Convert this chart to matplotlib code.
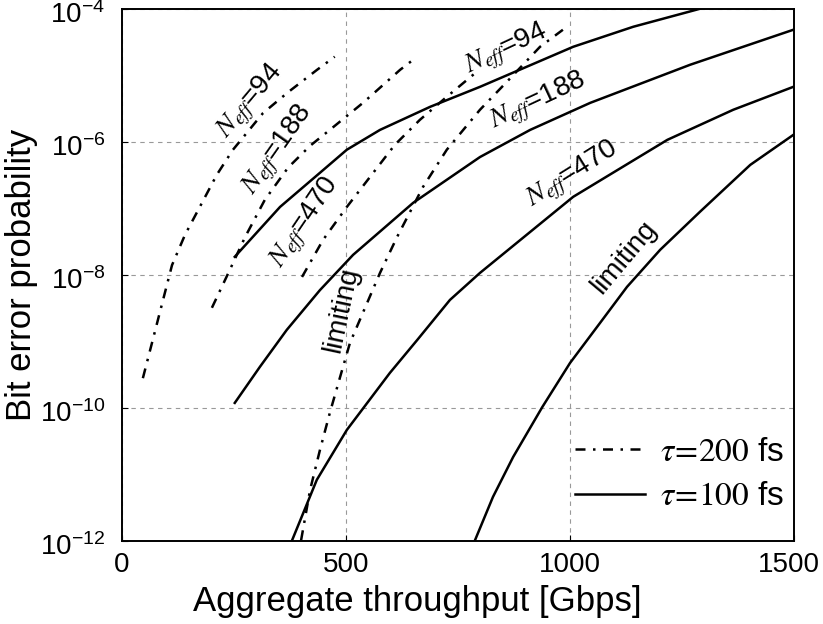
import matplotlib
matplotlib.use("Agg")
from matplotlib import pyplot as plt
from matplotlib.transforms import ScaledTranslation

plt.rcParams['font.family'] = ['Liberation Sans', 'DejaVu Sans']
plt.rcParams['mathtext.fontset'] = 'stix'

# tau = 200 fs (dash-dot curves)
x_200_94 = [47, 69, 92, 112, 141, 174, 212, 248, 315, 370, 435, 475]
y_200_94 = [2.8e-10, 1.05e-9, 4.2e-9, 1.4e-8, 4.0e-8, 1.05e-7, 3.2e-7, 7.6e-7, 2.7e-6, 5.5e-6, 1.2e-5, 1.9e-5]

x_200_188 = [201, 241, 275, 319, 371, 420, 464, 538, 621, 650]
y_200_188 = [3.2e-9, 1.19e-8, 3.7e-8, 1.34e-7, 4.1e-7, 8.7e-7, 1.51e-6, 3.85e-6, 1.21e-5, 1.71e-5]

x_200_470 = [402, 449, 502, 554, 609, 665, 725, 792]
y_200_470 = [9.3e-9, 3.36e-8, 1.05e-7, 2.98e-7, 9.0e-7, 2.14e-6, 4.75e-6, 1.13e-5]

x_200_lim = [400, 420, 442, 464, 487, 509, 576, 614, 672, 725, 799, 859, 933, 984]
y_200_lim = [1.03e-12, 5.85e-12, 2.33e-11, 8.4e-11, 2.92e-10, 9.5e-10, 1.07e-8, 3.7e-8,
             2.1e-7, 7.6e-7, 3.03e-6, 7.98e-6, 2.68e-5, 4.83e-5]

# tau = 100 fs (solid curves)
x_100_94 = [252, 353, 442, 502, 576, 688, 799, 1007, 1141, 1290]
y_100_94 = [1.87e-8, 1.05e-7, 3.42e-7, 7.6e-7, 1.51e-6, 3.36e-6, 6.7e-6, 2.68e-5, 5.36e-5, 1e-4]

x_100_188 = [252, 308, 368, 442, 516, 650, 799, 911, 1045, 1268, 1498]
y_100_188 = [1.19e-10, 4.14e-10, 1.49e-9, 5.9e-9, 2.0e-8, 1.21e-7, 5.9e-7, 1.51e-6, 3.85e-6, 1.44e-5, 4.83e-5]

x_100_470 = [380, 435, 502, 598, 659, 732, 799, 1007, 1217, 1364, 1498]
y_100_470 = [1.03e-12, 8.3e-12, 4.67e-11, 3.36e-10, 1.05e-9, 4.2e-9, 1.07e-8, 1.49e-7, 1.07e-6, 3.03e-6, 6.7e-6]

x_100_lim = [788, 828, 873, 938, 1000, 1067, 1127, 1201, 1290, 1402, 1498]
y_100_lim = [1.03e-12, 4.6e-12, 1.83e-11, 1.03e-10, 4.75e-10, 1.9e-9, 6.6e-9, 2.38e-8, 8.9e-8, 4.5e-7, 1.27e-6]

y_ticks = [1e-12, 1e-10, 1e-8, 1e-6, 1e-4]
y_tick_labels = [r'$\mathregular{10^{-12}}$', r'$\mathregular{10^{-10}}$', r'$\mathregular{10^{-8}}$',
                 r'$\mathregular{10^{-6}}$', r'$\mathregular{10^{-4}}$']
x_ticks = [0, 500, 1000, 1500]

fig = plt.figure(figsize=(8.23, 6.24), dpi=100)
ax = fig.add_axes([0.148, 0.133, 0.817, 0.853])

dash = (0, (4, 3, 1, 3))
lw = 1.8

ax.plot(x_200_94, y_200_94, color='k', lw=lw, linestyle=dash, label=r'$\tau\!=\!200$ fs')
ax.plot(x_200_188, y_200_188, color='k', lw=lw, linestyle=dash)
ax.plot(x_200_470, y_200_470, color='k', lw=lw, linestyle=dash)
ax.plot(x_200_lim, y_200_lim, color='k', lw=lw, linestyle=dash)

ax.plot(x_100_94, y_100_94, color='k', lw=lw, label=r'$\tau\!=\!100$ fs')
ax.plot(x_100_188, y_100_188, color='k', lw=lw)
ax.plot(x_100_470, y_100_470, color='k', lw=lw)
ax.plot(x_100_lim, y_100_lim, color='k', lw=lw)

ax.set_yscale('log')
ax.set_xlim(0, 1500)
ax.set_ylim(1e-12, 1e-4)
ax.set_yticks(y_ticks)
ax.set_yticklabels(y_tick_labels)
ax.set_xticks(x_ticks)
ax.minorticks_off()
ax.tick_params(direction='in', length=4, labelsize=20)
ax.tick_params(axis='y', pad=12)
ax.tick_params(axis='x', pad=8)
ax.grid(True, color='0.6', linestyle=(0, (4, 4)), lw=0.8)
for s in ax.spines.values():
    s.set_linewidth(1.4)

# nudge y tick labels down so the "10" sits on the tick
off = ScaledTranslation(0, -3 / 100, fig.dpi_scale_trans)
for t in ax.get_yticklabels():
    t.set_transform(t.get_transform() + off)
# keep "1500" inside the figure
last = ax.get_xticklabels()[-1]
last.set_transform(last.get_transform() + ScaledTranslation(-5 / 100, 0, fig.dpi_scale_trans))

ax.set_xlabel('Aggregate throughput [Gbps]', fontsize=25)
ax.xaxis.set_label_coords(0.44, -0.083)
ax.set_ylabel('Bit error probability', fontsize=25, labelpad=1)

# curve labels
lab = dict(fontsize=20, ha='center', va='center', rotation_mode='anchor')
ax.text(288, 10**-5.40, r'$N_{eff}$=94', rotation=50, **lab)
ax.text(348, 10**-6.12, r'$N_{eff}$=188', rotation=55, **lab)
ax.text(410, 10**-7.22, r'$N_{eff}$=470', rotation=56, **lab)
ax.text(491, 10**-8.53, 'limiting', rotation=78, **lab)

ax.text(858, 10**-4.62, r'$N_{eff}$=94', rotation=25, **lab)
ax.text(928, 10**-5.40, r'$N_{eff}$=188', rotation=25, **lab)
ax.text(1006, 10**-6.50, r'$N_{eff}$=470', rotation=32, **lab)
ax.text(1121, 10**-7.74, 'limiting', rotation=50, **lab)

ax.legend(loc='lower right', bbox_to_anchor=(1.0, 0.035), frameon=False, fontsize=24,
          handlelength=2.1, handletextpad=0.45, labelspacing=0.4, borderaxespad=0,
          borderpad=0.3)

fig.savefig('out.png', dpi=100)
